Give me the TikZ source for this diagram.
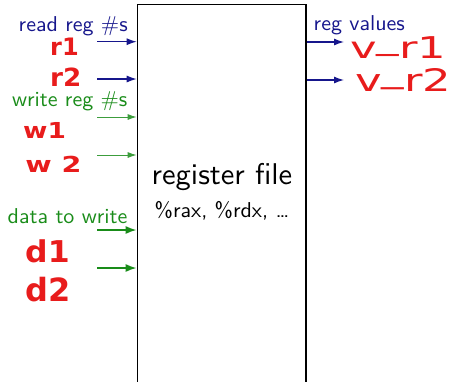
\documentclass[tikz,border=0pt]{standalone}
\usepackage{fontspec}
\newfontfamily\handfont{DejaVu Sans}
\usetikzlibrary{arrows.meta}
\definecolor{regblue}{RGB}{22,22,140}
\definecolor{reggreen}{RGB}{25,140,25}
\definecolor{inkred}{RGB}{232,28,28}

\begin{document}
\begin{tikzpicture}[x=1pt,y=-1pt,
  lbl/.style={inner sep=0pt, anchor=base west,
    font=\sffamily\fontsize{10}{12}\selectfont, xscale=2.2, yscale=2.15},
  hand/.style={inner sep=0pt, anchor=base west, text=inkred},
  readarrow/.style={draw=regblue, line width=1.2pt,
    -{Latex[length=10pt,width=7pt]}},
  wrarrow/.style={draw=reggreen!85, line width=1pt,
    -{Latex[length=9pt,width=6pt]}},
  dataarrow/.style={draw=reggreen, line width=1.8pt,
    -{Latex[length=11pt,width=8pt]}}]

\clip (0,0) rectangle (455,381);

% the register file block, open towards the bottom
\node[draw, line width=1.2pt, minimum width=168.6pt, minimum height=420pt,
  anchor=north west, inner sep=0pt] (rf) at (136.7,4) {};

\node[inner sep=0pt, anchor=base, font=\sffamily\fontsize{10}{12}\selectfont,
  xscale=3.05, yscale=3.0] (title) at (222,184) {register file};
\node[inner sep=0pt, anchor=base, font=\sffamily\fontsize{10}{12}\selectfont,
  xscale=2.2, yscale=2.15] (regs) at (222,217) {\%rax, \%rdx, \ldots};

% input labels
\node[lbl, text=regblue] (readlbl) at (18.3,31.7) {read reg \#s};
\node[lbl, text=reggreen] (writelbl) at (11.7,106.7) {write reg \#s};
\node[lbl, text=reggreen] (datalbl) at (7.3,223.3) {data to write};
\node[lbl, text=regblue] (outlbl) at (313.3,30.7) {reg values};

% input ports
\coordinate (r1in) at (97.3,41.7);
\coordinate (r2in) at (97.3,79);
\coordinate (w1in) at (97.3,117);
\coordinate (w2in) at (97.3,155);
\coordinate (d1in) at (97.3,230);
\coordinate (d2in) at (97.3,268);
\draw[readarrow] (r1in) -- (r1in -| rf.west);
\draw[readarrow] (r2in) -- (r2in -| rf.west);
\draw[wrarrow] (w1in) -- (w1in -| rf.west);
\draw[wrarrow] (w2in) -- (w2in -| rf.west);
\draw[dataarrow] (d1in) -- (d1in -| rf.west);
\draw[dataarrow] (d2in) -- (d2in -| rf.west);

% output ports
\coordinate (v1out) at (344,42);
\coordinate (v2out) at (344,80);
\draw[readarrow] (v1out -| rf.east) -- (v1out);
\draw[readarrow] (v2out -| rf.east) -- (v2out);

% handwritten notes
\node[hand, font=\handfont\bfseries\fontsize{24}{24}\selectfont] (nr1) at (50,55) {r1};
\node[hand, font=\handfont\bfseries\fontsize{25}{25}\selectfont, xscale=1.05] (nr2) at (50,86) {r2};
\node[hand, font=\handfont\bfseries\fontsize{22}{22}\selectfont, xscale=1.2] (nw1) at (23,138) {w1};
\node[hand, font=\handfont\bfseries\fontsize{22}{22}\selectfont, xscale=1.3] (nw2) at (25,172) {w 2};
\node[hand, font=\handfont\bfseries\fontsize{30}{30}\selectfont, xscale=1.05] (nd1) at (25,262) {d1};
\node[hand, font=\handfont\bfseries\fontsize{32}{32}\selectfont] (nd2) at (25,301) {d2};
\node[hand, font=\handfont\fontsize{30}{30}\selectfont, xscale=1.5] (nv1) at (350,58)
  {v\raisebox{0.28em}{\_}r1};
\node[hand, font=\handfont\fontsize{31}{31}\selectfont, xscale=1.45] (nv2) at (355,91)
  {v\raisebox{0.28em}{\_}r2};
\end{tikzpicture}
\end{document}
